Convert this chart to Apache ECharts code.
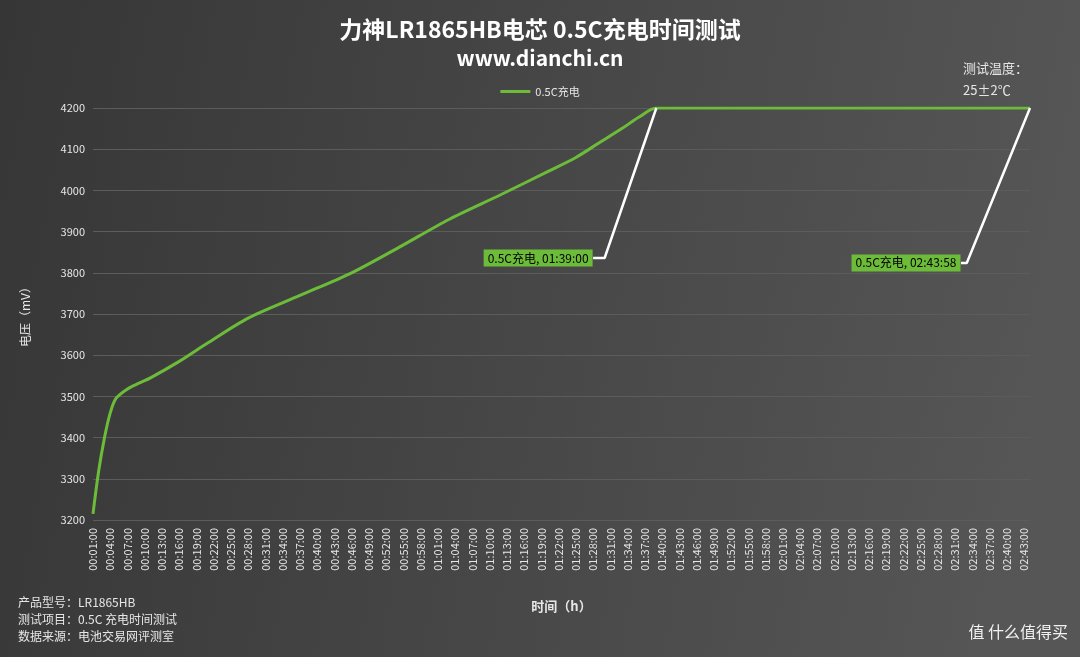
<!DOCTYPE html>
<html><head><meta charset="utf-8">
<script src="https://cdn.jsdelivr.net/npm/echarts@6/dist/echarts.min.js"></script>
<style>html,body{margin:0;padding:0}#c{width:1080px;height:657px}</style>
</head><body><div id="c"></div>
<script>
// minutes from 00:01:00 to 02:44:00
const minutes = [];
for (let m = 1; m <= 164; m++) {
  const h = Math.floor(m / 60), mm = m % 60;
  minutes.push('0' + h + ':' + String(mm).padStart(2, '0') + ':00');
}
// readings: [minute index, mV]
const chargeReadings = [
  [0,3215],[0.7,3320],[1.7,3400],[3,3460],[4.3,3495],[6,3518],[8,3532],[10,3545],[15,3585],
  [20,3630],[27,3690],[36,3745],[45,3800],[53,3860],[62,3930],[71,3990],[79,4045],
  [84,4080],[88,4115],[92,4150],[95,4178],[98,4200],[110,4200],[130,4200],[150,4200],[162.97,4200]
];
const note1 = [[98,4200],[88.7,3836],[87.3,3836]];
const note2 = [[162.97,4200],[152.2,3824],[150.8,3824]];
const note1Text = '0.5C充电, 01:39:00';
const note2Text = '0.5C充电, 02:43:58';

const txt = '#e6e6e6';
const chart = echarts.init(document.getElementById('c'));
const noteSeries = (d, t) => ({
  type:'line', data:d, symbol:'none', silent:true,
  lineStyle:{color:'#ffffff', width:2.5}, z:5,
  markPoint:{symbol:'circle', symbolSize:1, itemStyle:{color:'rgba(0,0,0,0)'},
    data:[{coord:d[d.length-1]}],
    label:{show:true, formatter:t, position:'left', distance:0, color:'#000', fontSize:12,
      backgroundColor:'#6cbc3a', padding:[3,4,2,4]}}
});
chart.setOption({
  backgroundColor:{type:'linear',x:0,y:0,x2:1,y2:0.3,colorStops:[{offset:0,color:'#363636'},{offset:1,color:'#565656'}]},
  textStyle:{fontFamily:'Noto Sans CJK SC'},
  title:[
    {text:'力神LR1865HB电芯 0.5C充电时间测试', left:'center', top:13, textStyle:{color:'#fff', fontSize:23, fontWeight:'bold'}},
    {text:'www.dianchi.cn', left:'center', top:43, textStyle:{color:'#fff', fontSize:21, fontWeight:'bold'}}
  ],
  legend:{data:['0.5C充电'], top:81, left:'center', icon:'rect', itemWidth:30, itemHeight:3, textStyle:{color:txt, fontSize:11}},
  grid:{left:93, right:50, top:108, bottom:137},
  xAxis:{type:'category', data:minutes, boundaryGap:false, name:'时间（h）', nameLocation:'middle', nameGap:80,
    nameTextStyle:{color:txt, fontSize:13, fontWeight:'bold'},
    axisLine:{show:false}, axisTick:{show:false},
    axisLabel:{interval:2, rotate:90, color:txt, fontSize:11}},
  yAxis:{type:'value', min:3200, max:4200, interval:100, name:'电压（mV）', nameLocation:'middle', nameGap:62,
    nameTextStyle:{color:txt, fontSize:12},
    axisLabel:{color:txt, fontSize:11, formatter:v=>String(v)}, splitLine:{lineStyle:{color:'#5c5c5c'}}},
  series:[
    {name:'0.5C充电', type:'line', data:chargeReadings, smooth:0.3, symbol:'none',
      itemStyle:{color:'#6cbc3a'}, lineStyle:{color:'#6cbc3a', width:3}},
    noteSeries(note1, note1Text), noteSeries(note2, note2Text)
  ],
  graphic:[
    {type:'text', left:963, top:57, style:{text:'测试温度：\n25±2℃', fill:txt, fontSize:13, lineHeight:22, fontFamily:'Noto Sans CJK SC'}},
    {type:'text', left:18, top:594, style:{text:'产品型号：LR1865HB\n测试项目：0.5C 充电时间测试\n数据来源：电池交易网评测室', fill:txt, fontSize:12, lineHeight:17, fontFamily:'Noto Sans CJK SC'}},
    {type:'text', right:12, top:624, style:{text:'值 什么值得买', fill:'#f0f0f0', fontSize:16, fontFamily:'Noto Sans CJK SC'}}
  ]
});
</script></body></html>
